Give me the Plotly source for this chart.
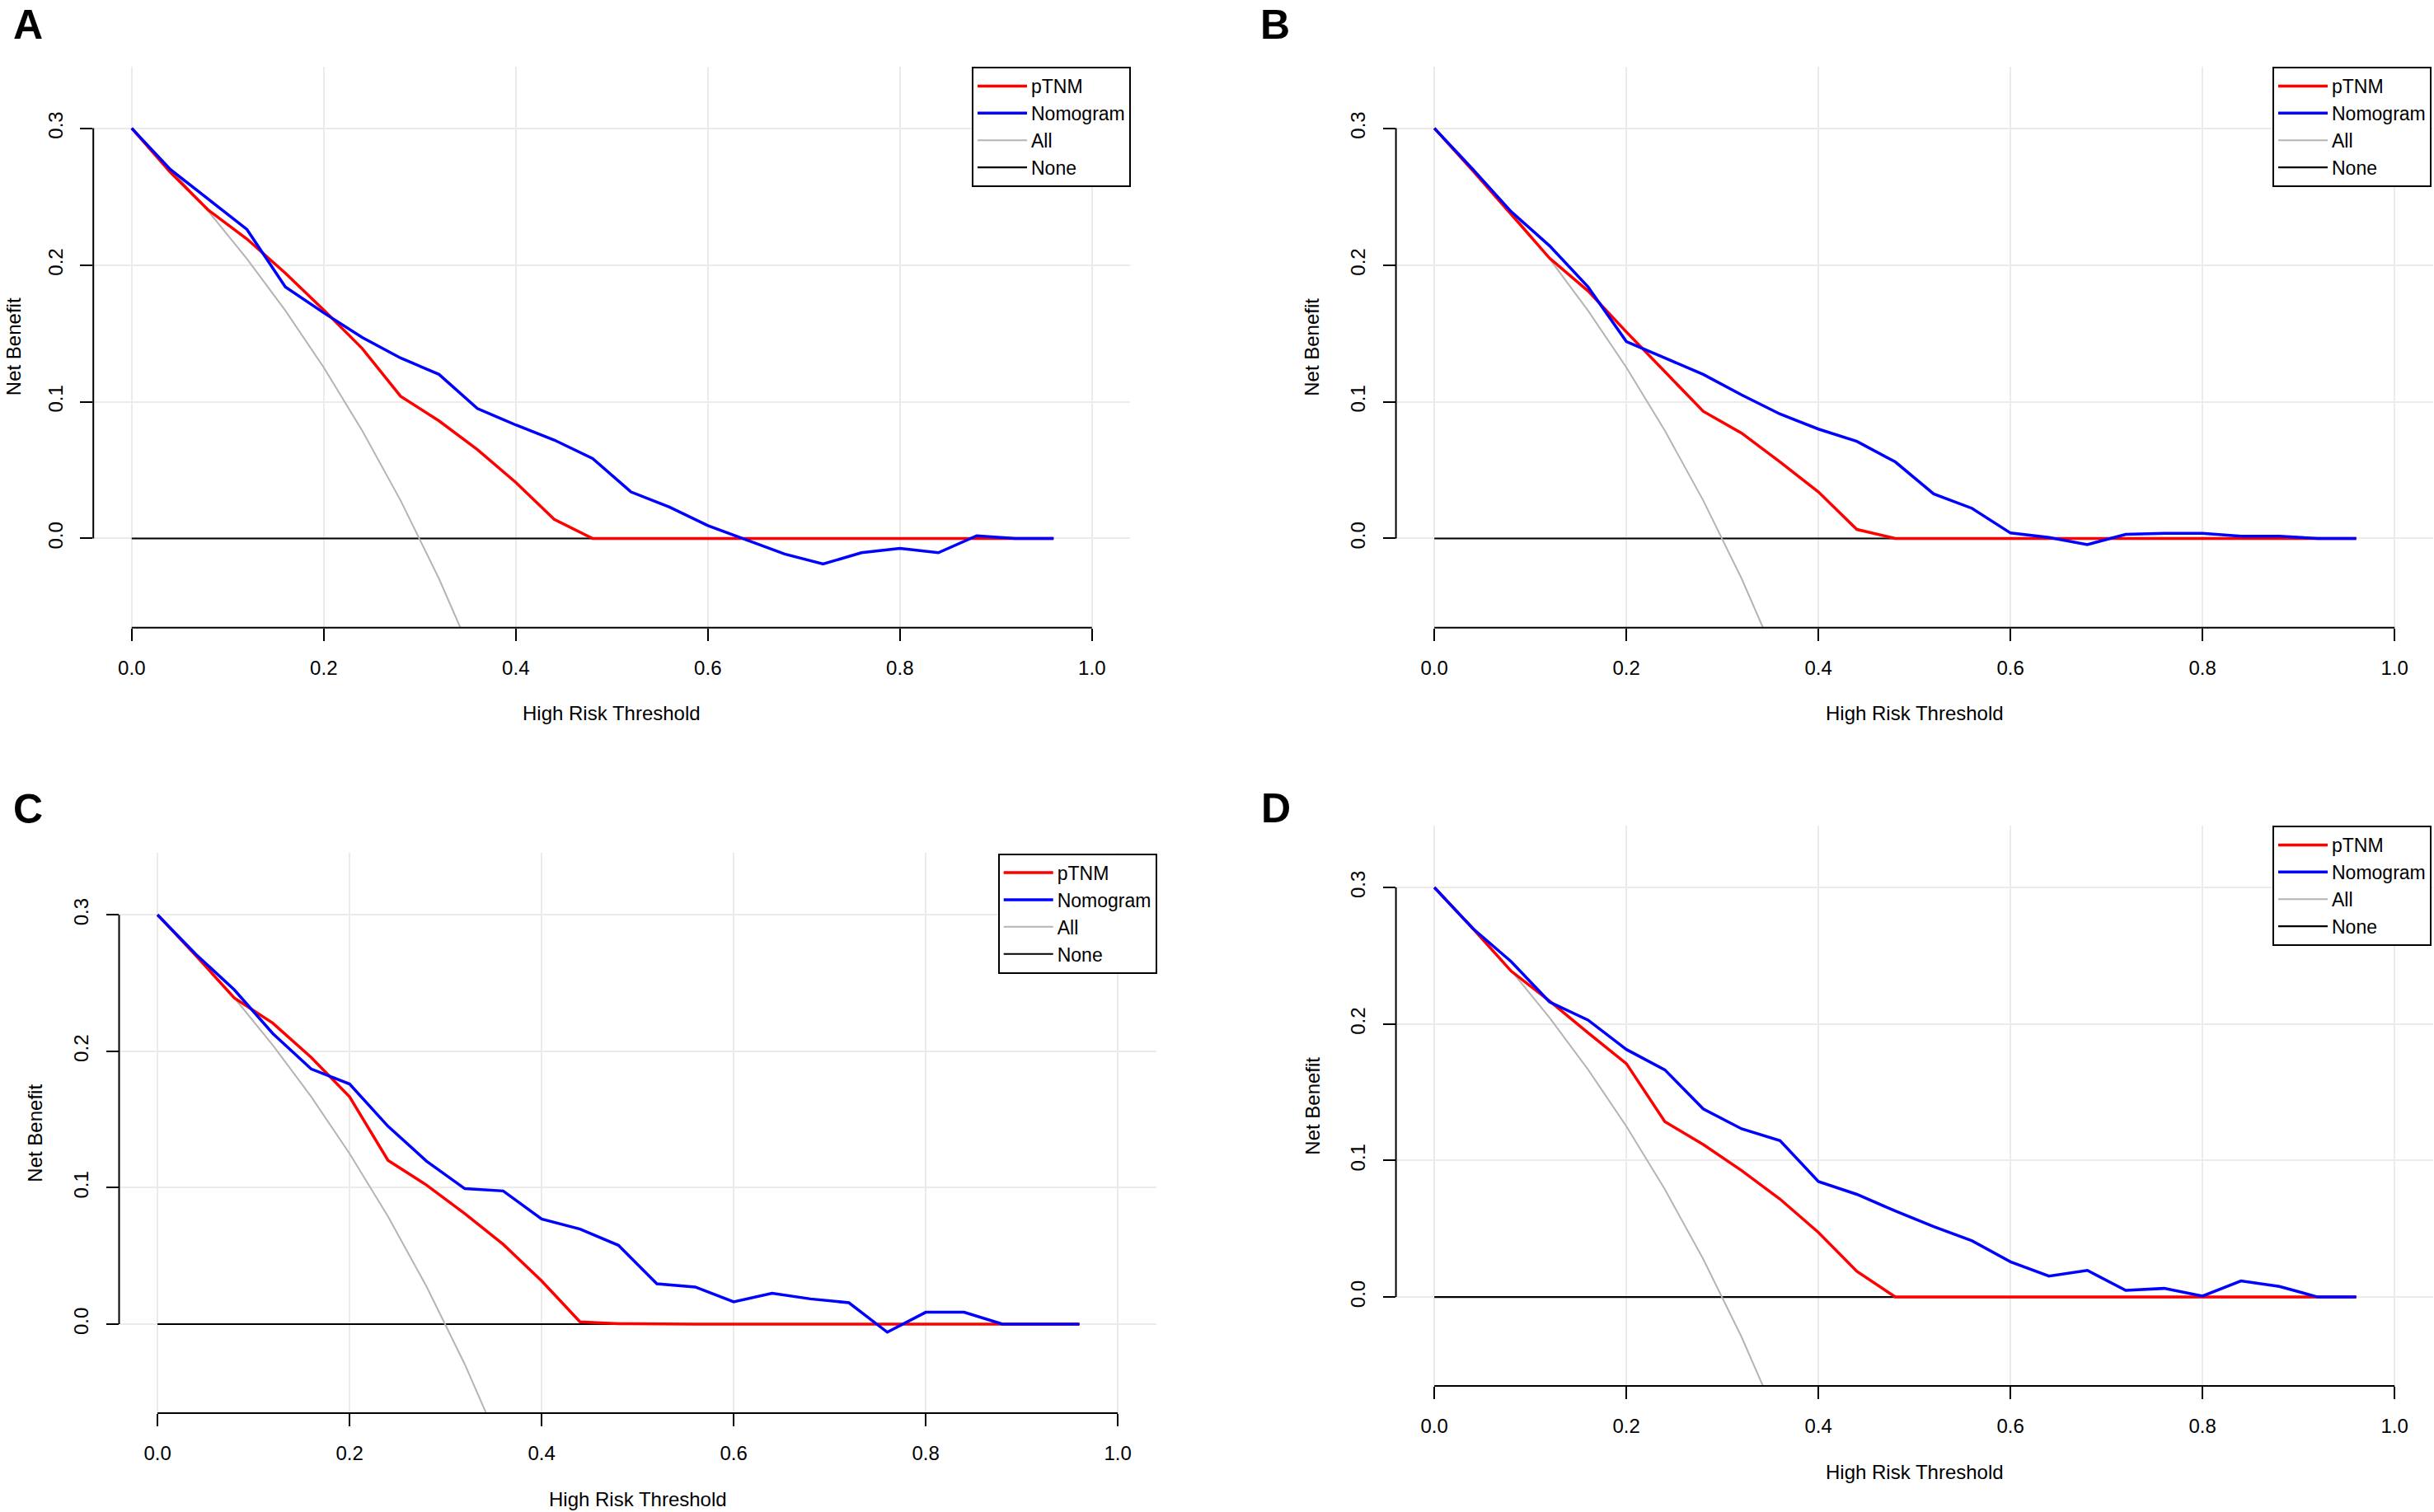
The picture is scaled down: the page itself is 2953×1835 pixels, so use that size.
import plotly.graph_objects as go

# ---------------- data ----------------
thresholds = [0.00, 0.04, 0.08, 0.12, 0.16, 0.20, 0.24, 0.28, 0.32, 0.36, 0.40, 0.44, 0.48,
              0.52, 0.56, 0.60, 0.64, 0.68, 0.72, 0.76, 0.80, 0.84, 0.88, 0.92, 0.96]

# "All" (treat everyone) curve, drawn until it leaves the plot region
all_thresholds = [0.00, 0.04, 0.08, 0.12, 0.16, 0.20, 0.24, 0.28, 0.32, 0.36]
all_benefit = [0.300, 0.2708, 0.2391, 0.2045, 0.1667, 0.125, 0.0789, 0.0278, -0.0294, -0.0938]

# "None" (treat no one)
none_benefit = [0.0] * 25

A_ptnm = [0.300, 0.268, 0.240, 0.219, 0.194, 0.167, 0.139, 0.104, 0.086, 0.065, 0.041, 0.014, 0.000,
          0.0, 0.0, 0.0, 0.0, 0.0, 0.0, 0.0, 0.0, 0.0, 0.0, 0.0, 0.0]
A_nomo = [0.300, 0.270, 0.248, 0.226, 0.184, 0.165, 0.147, 0.132, 0.120, 0.095, 0.083, 0.072, 0.0585,
          0.034, 0.023, 0.0094, -0.001, -0.0114, -0.0187, -0.0104, -0.0073, -0.0104, 0.002, 0.000, 0.000]

B_ptnm = [0.300, 0.269, 0.237, 0.205, 0.181, 0.151, 0.122, 0.093, 0.077, 0.056, 0.034, 0.0066, 0.000,
          0.0, 0.0, 0.0, 0.0, 0.0, 0.0, 0.0, 0.0, 0.0, 0.0, 0.0, 0.0]
B_nomo = [0.300, 0.270, 0.239, 0.214, 0.184, 0.144, 0.132, 0.120, 0.105, 0.091, 0.080, 0.071, 0.056,
          0.0326, 0.022, 0.004, 0.0007, -0.0045, 0.003, 0.0038, 0.0038, 0.0017, 0.0017, 0.000, 0.000]

C_ptnm = [0.300, 0.270, 0.239, 0.2206, 0.1955, 0.1666, 0.120, 0.102, 0.081, 0.0585, 0.0317, 0.0017, 0.0003,
          0.0, 0.0, 0.0, 0.0, 0.0, 0.0, 0.0, 0.0, 0.0, 0.0, 0.0, 0.0]
C_nomo = [0.300, 0.271, 0.245, 0.213, 0.187, 0.176, 0.145, 0.1195, 0.0993, 0.0976, 0.077, 0.0697, 0.0578,
          0.0296, 0.0272, 0.0164, 0.0226, 0.0185, 0.0157, -0.0059, 0.0087, 0.0087, 0.000, 0.000, 0.000]

D_ptnm = [0.300, 0.270, 0.2387, 0.2168, 0.1935, 0.1709, 0.1284, 0.1117, 0.0926, 0.0717, 0.0473, 0.0188, 0.000,
          0.0, 0.0, 0.0, 0.0, 0.0, 0.0, 0.0, 0.0, 0.0, 0.0, 0.0, 0.0]
D_nomo = [0.300, 0.270, 0.2457, 0.2161, 0.2029, 0.1813, 0.1664, 0.1378, 0.1232, 0.1145, 0.0846, 0.0752, 0.063,
          0.0515, 0.0411, 0.0258, 0.0153, 0.0195, 0.0049, 0.0063, 0.0007, 0.0118, 0.0077, 0.000, 0.000]

series_names = ["pTNM", "Nomogram", "All", "None"]
panel_letters = ["A", "B", "C", "D"]

x_tickvals = [0.0, 0.2, 0.4, 0.6, 0.8, 1.0]
x_ticktext = ["0.0", "0.2", "0.4", "0.6", "0.8", "1.0"]
y_tickvals = [0.0, 0.1, 0.2, 0.3]
y_ticktext = ["0.0", "0.1", "0.2", "0.3"]

x_title = "High Risk Threshold"
y_title = "Net Benefit"

# ---------------- layout (pixel geometry of the reference) ----------------
W, H = 2953, 1835
FONT = "Liberation Sans, Arial, Helvetica, sans-serif"
FS = 24
LEG_FS = 23

panels = [
    dict(letter="A", ptnm=A_ptnm, nomo=A_nomo, px=(113.2, 1371.4), py=(80.6, 761.7),
         leg=(1372, 81), let=(33.7, 30)),
    dict(letter="B", ptnm=B_ptnm, nomo=B_nomo, px=(1693.6, 2951.8), py=(80.6, 761.7),
         leg=(2950, 81), let=(1547, 30)),
    dict(letter="C", ptnm=C_ptnm, nomo=C_nomo, px=(144.5, 1402.7), py=(1035.3, 1715.0),
         leg=(1403.7, 1035.6), let=(34, 982)),
    dict(letter="D", ptnm=D_ptnm, nomo=D_nomo, px=(1693.6, 2951.8), py=(1002.1, 1682.1),
         leg=(2950, 1002), let=(1548, 981)),
]

colors = {"pTNM": "#FF0000", "Nomogram": "#0000FF", "All": "#B4B4B4", "None": "#000000"}
widths = {"pTNM": 3.5, "Nomogram": 3.5, "All": 2.0, "None": 2.2}
ranks = {"pTNM": 1, "Nomogram": 2, "All": 3, "None": 4}

fig = go.Figure()
layout = dict(width=W, height=H, margin=dict(l=0, r=0, t=0, b=0, pad=0),
              paper_bgcolor="white", plot_bgcolor="white",
              font=dict(family=FONT, size=FS, color="black"),
              annotations=[], shapes=[])

for i, p in enumerate(panels):
    n = "" if i == 0 else str(i + 1)
    xa, ya = "x" + n, "y" + n
    legname = "legend" + n

    traces = [
        ("None", thresholds, none_benefit),
        ("All", all_thresholds, all_benefit),
        ("pTNM", thresholds, p["ptnm"]),
        ("Nomogram", thresholds, p["nomo"]),
    ]
    for name, xs, ys in traces:
        fig.add_trace(go.Scatter(
            x=xs, y=ys, mode="lines", name=name,
            line=dict(color=colors[name], width=widths[name]),
            xaxis=xa, yaxis=ya, legend=legname, legendrank=ranks[name],
            showlegend=True, hoverinfo="skip"))

    x0, x1 = p["px"][0] / W, p["px"][1] / W
    y0, y1 = 1 - p["py"][1] / H, 1 - p["py"][0] / H

    layout["xaxis" + n] = dict(
        domain=[x0, x1], range=[-0.04, 1.04], anchor=ya,
        tickmode="array", tickvals=x_tickvals, ticktext=x_ticktext,
        ticks="outside", ticklen=15, tickwidth=2, tickcolor="black",
        showline=False, zeroline=False, showgrid=True, gridcolor="#EBEBEB", gridwidth=1.6,
        tickfont=dict(family=FONT, size=FS, color="black"), ticklabelstandoff=12,
        fixedrange=True)
    layout["yaxis" + n] = dict(
        domain=[y0, y1], range=[-0.0652, 0.3452], anchor=xa,
        tickmode="array", tickvals=y_tickvals, ticktext=y_ticktext,
        ticks="outside", ticklen=15, tickwidth=2, tickcolor="black", tickangle=-90,
        showline=False, zeroline=False, showgrid=True, gridcolor="#EBEBEB", gridwidth=1.6,
        tickfont=dict(family=FONT, size=FS, color="black"), ticklabelstandoff=12,
        fixedrange=True)

    # R-style axis lines spanning only the tick range
    layout["shapes"].append(dict(type="line", xref=xa, yref=ya + " domain",
                                 x0=x_tickvals[0], x1=x_tickvals[-1], y0=0, y1=0,
                                 line=dict(color="black", width=2)))
    layout["shapes"].append(dict(type="line", xref=xa + " domain", yref=ya,
                                 x0=0, x1=0, y0=y_tickvals[0], y1=y_tickvals[-1],
                                 line=dict(color="black", width=2)))

    # axis titles
    layout["annotations"].append(dict(
        text=x_title, xref=xa + " domain", x=0.5, yref="paper",
        y=1 - (p["py"][1] + 104) / H, xanchor="center", yanchor="middle",
        showarrow=False, font=dict(family=FONT, size=FS, color="black")))
    layout["annotations"].append(dict(
        text=y_title, xref="paper", x=max(p["px"][0] - 102, 16) / W, yref=ya + " domain", y=0.5,
        xanchor="center", yanchor="middle", textangle=-90,
        showarrow=False, font=dict(family=FONT, size=FS, color="black")))

    # panel letter
    layout["annotations"].append(dict(
        text="<b>%s</b>" % p["letter"], xref="paper", yref="paper",
        x=p["let"][0] / W, y=1 - p["let"][1] / H, xanchor="center", yanchor="middle",
        showarrow=False, font=dict(family=FONT, size=50, color="black")))

    # legend
    layout[legname] = dict(
        x=p["leg"][0] / W, y=1 - p["leg"][1] / H, xref="paper", yref="paper",
        xanchor="right", yanchor="top", bgcolor="white",
        bordercolor="black", borderwidth=2, itemwidth=60,
        font=dict(family=FONT, size=LEG_FS, color="black"), traceorder="normal",
        tracegroupgap=0)

fig.update_layout(**layout)

fig.write_html("out.html", config={"displayModeBar": False},
               post_script="document.body.style.margin='0';document.body.style.overflow='hidden';")
